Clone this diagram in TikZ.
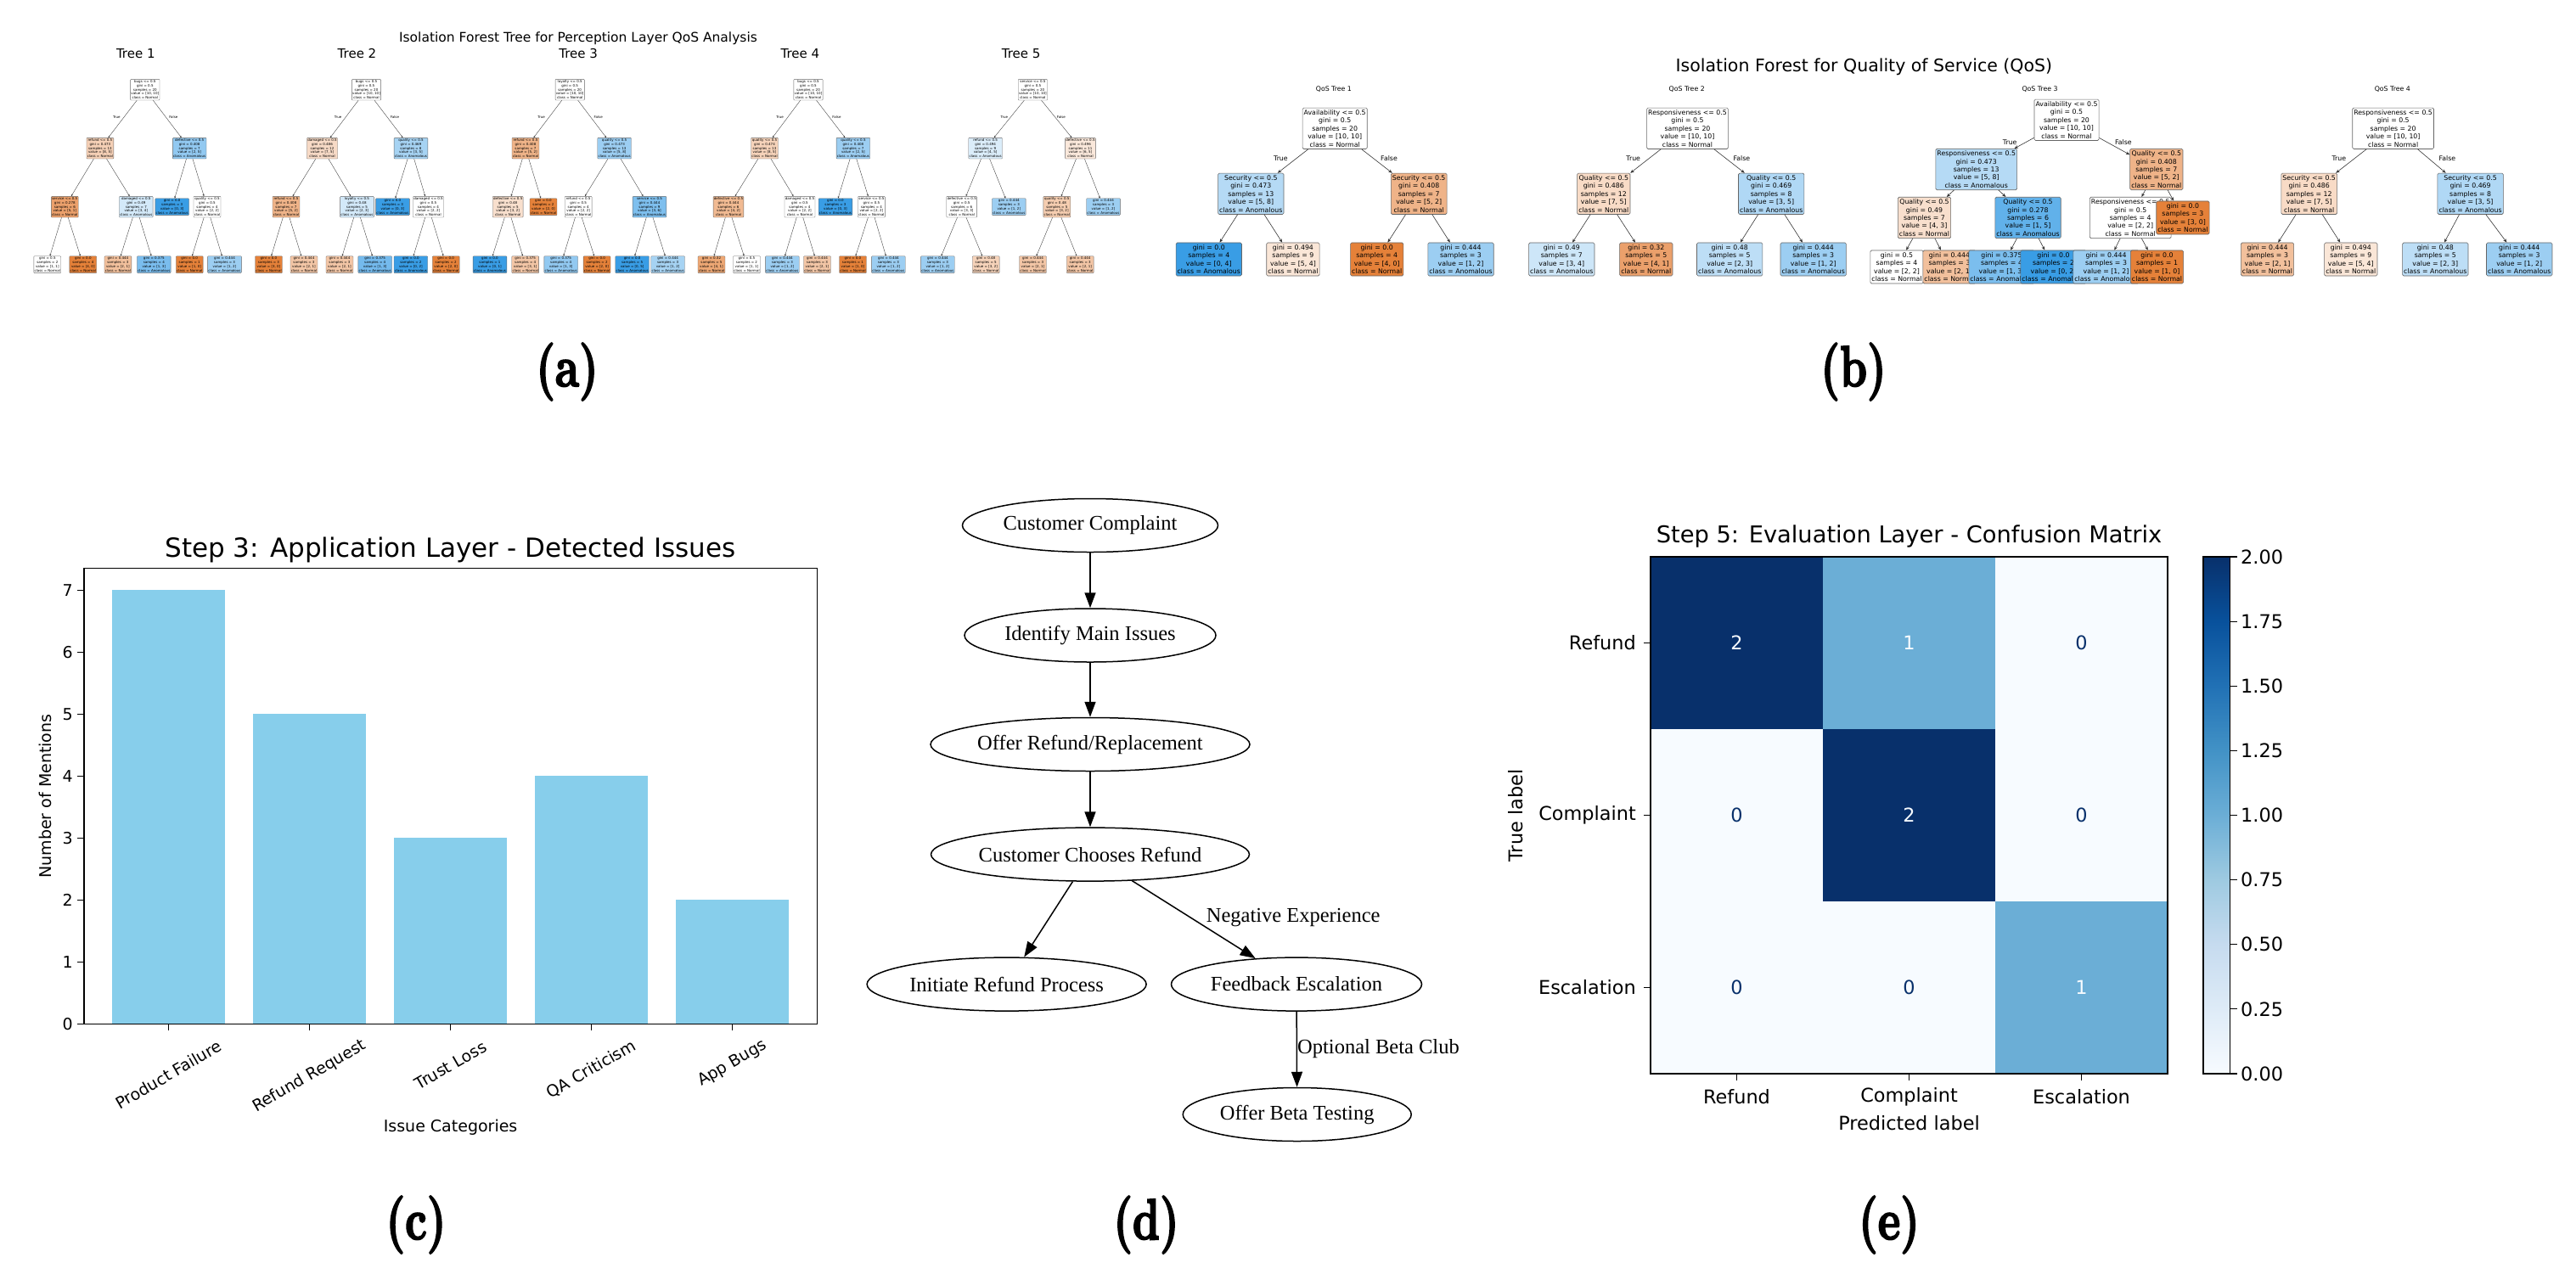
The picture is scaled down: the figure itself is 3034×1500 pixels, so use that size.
\documentclass[tikz,border=0pt]{standalone}
\usepackage{fontspec}
\newfontfamily\mplfont{DejaVu Sans}
\newfontfamily\gvfont{Liberation Serif}
\newfontfamily\labelfont{lmroman10-bold.otf}[FakeBold=3]
\usetikzlibrary{positioning, arrows.meta, shapes.geometric}

\definecolor{clsnorm}{HTML}{E58139}
\definecolor{clsanom}{HTML}{399DE5}
\definecolor{barblue}{HTML}{87CEEB}
\definecolor{blues0}{HTML}{F7FBFF}
\definecolor{blues1}{HTML}{DEEBF7}
\definecolor{blues2}{HTML}{C6DBEF}
\definecolor{blues3}{HTML}{9ECAE1}
\definecolor{blues4}{HTML}{6BAED6}
\definecolor{blues5}{HTML}{4292C6}
\definecolor{blues6}{HTML}{2171B5}
\definecolor{blues7}{HTML}{08519C}
\definecolor{blues8}{HTML}{08306B}

\newcommand{\splittxt}[5]{#1 <= 0.5\\gini = #2\\samples = #3\\value = [#4]\\class = #5}
\newcommand{\leaftxt}[4]{gini = #1\\samples = #2\\value = [#3]\\class = #4}
\newcommand{\panellabel}[1]{\scalebox{0.74}[1]{(#1)}}

\begin{document}
\begin{tikzpicture}[
    x=1pt, y=-1pt,
    treebox/.style={draw=black!60, rounded corners=1.5pt, line width=0.6pt,
        align=center, inner xsep=1.6pt, inner ysep=2.4pt,
        font=\mplfont\fontsize{7.8}{9.4}\selectfont},
    minibox/.style={draw=black!60, rounded corners=0.8pt, line width=0.35pt,
        align=center, inner xsep=0.8pt, inner ysep=1.2pt,
        font=\mplfont\fontsize{4}{4.8}\selectfont},
    treeedge/.style={-{Stealth[length=4.5pt,width=3.6pt]}, draw=black!80, line width=0.6pt},
    miniedge/.style={-{Stealth[length=2.4pt,width=2pt]}, draw=black!80, line width=0.35pt},
    tflabel/.style={font=\mplfont\fontsize{7.8}{9}\selectfont},
    minitf/.style={font=\mplfont\fontsize{4}{5}\selectfont},
    plottext/.style={inner sep=0pt, font=\mplfont\fontsize{19}{22}\selectfont},
    cmtext/.style={inner sep=0pt, font=\mplfont\fontsize{22.4}{26}\selectfont},
    gvnode/.style={ellipse, draw, line width=1.5pt, minimum height=63pt, inner sep=0pt,
        font=\gvfont\fontsize{24.5}{29}\selectfont},
    gvedge/.style={-{Triangle[length=18pt,width=13pt]}, line width=1.5pt},
    gvlabel/.style={anchor=west, inner sep=0pt, font=\gvfont\fontsize{24.5}{29}\selectfont},
    sublabel/.style={font=\labelfont\fontsize{68}{80}\selectfont}
]

\useasboundingbox (0,0) rectangle (3034,1500);

% =================================================
% (a) ISOLATION FOREST, PERCEPTION LAYER
% =================================================

\node[font=\mplfont\fontsize{15.5}{18}\selectfont] (atitle) at (681,45.7)
{Isolation Forest Tree for Perception Layer QoS Analysis};

\foreach \k/\x in {1/159.8, 2/420.5, 3/681.2, 4/942.4, 5/1202.6}{
    \node[font=\mplfont\fontsize{15}{18}\selectfont] (atree\k) at (\x,62.7) {Tree \k};
}

% Tree 1
\node[minibox, fill=white] (t1r) at (170.8,105.7) {\splittxt{bugs}{0.5}{20}{10, 10}{Normal}};
\node[minibox, fill=clsnorm!37!white] (t1a) at (117.9,174.7) {\splittxt{refund}{0.473}{13}{8, 5}{Normal}};
\node[minibox, fill=clsanom!55!white] (t1b) at (223.2,174.7) {\splittxt{defective}{0.408}{7}{2, 5}{Anomalous}};
\node[minibox, fill=clsnorm!75!white] (t1aa) at (76.3,243.7) {\splittxt{service}{0.278}{6}{5, 1}{Normal}};
\node[minibox, fill=clsanom!22!white] (t1ab) at (160.3,243.7) {\splittxt{damaged}{0.49}{7}{3, 4}{Anomalous}};
\node[minibox, fill=clsanom] (t1ba) at (202.7,243.7) {\leaftxt{0.0}{3}{0, 3}{Anomalous}};
\node[minibox, fill=white] (t1bb) at (244,243.7) {\splittxt{quality}{0.5}{4}{2, 2}{Normal}};
\node[minibox, fill=white] (t1aaa) at (55.8,311.7) {\leaftxt{0.5}{2}{1, 1}{Normal}};
\node[minibox, fill=clsnorm] (t1aab) at (97.8,311.7) {\leaftxt{0.0}{4}{4, 0}{Normal}};
\node[minibox, fill=clsnorm!50!white] (t1aba) at (138.9,311.7) {\leaftxt{0.444}{3}{2, 1}{Normal}};
\node[minibox, fill=clsanom!67!white] (t1abb) at (181.3,311.7) {\leaftxt{0.375}{4}{1, 3}{Anomalous}};
\node[minibox, fill=clsnorm] (t1bba) at (223.2,311.7) {\leaftxt{0.0}{1}{1, 0}{Normal}};
\node[minibox, fill=clsanom!50!white] (t1bbb) at (264.5,311.7) {\leaftxt{0.444}{3}{1, 2}{Anomalous}};

% Tree 2
\node[minibox, fill=white] (t2r) at (431.5,105.7) {\splittxt{bugs}{0.5}{20}{10, 10}{Normal}};
\node[minibox, fill=clsnorm!29!white] (t2a) at (379.5,174.7) {\splittxt{damaged}{0.486}{12}{7, 5}{Normal}};
\node[minibox, fill=clsanom!45!white] (t2b) at (484,174.7) {\splittxt{quality}{0.469}{8}{3, 5}{Anomalous}};
\node[minibox, fill=clsnorm!60!white] (t2aa) at (337,243.7) {\splittxt{refund}{0.408}{7}{5, 2}{Normal}};
\node[minibox, fill=clsanom!22!white] (t2ab) at (420.5,243.7) {\splittxt{loyalty}{0.48}{5}{2, 3}{Anomalous}};
\node[minibox, fill=clsanom] (t2ba) at (462.5,243.7) {\leaftxt{0.0}{3}{0, 3}{Anomalous}};
\node[minibox, fill=white] (t2bb) at (504.5,243.7) {\splittxt{damaged}{0.5}{4}{2, 2}{Normal}};
\node[minibox, fill=clsnorm] (t2aaa) at (316.5,311.7) {\leaftxt{0.0}{3}{3, 0}{Normal}};
\node[minibox, fill=clsnorm!45!white] (t2aab) at (358,311.7) {\leaftxt{0.444}{3}{2, 1}{Normal}};
\node[minibox, fill=clsnorm!45!white] (t2aba) at (400,311.7) {\leaftxt{0.444}{3}{2, 1}{Normal}};
\node[minibox, fill=clsanom!70!white] (t2abb) at (441.7,311.7) {\leaftxt{0.375}{4}{1, 3}{Anomalous}};
\node[minibox, fill=clsanom] (t2bba) at (483.9,311.7) {\leaftxt{0.0}{2}{0, 2}{Anomalous}};
\node[minibox, fill=clsnorm] (t2bbb) at (525.2,311.7) {\leaftxt{0.0}{2}{2, 0}{Normal}};

% Tree 3
\node[minibox, fill=white] (t3r) at (671.2,105.7) {\splittxt{loyalty}{0.5}{20}{10, 10}{Normal}};
\node[minibox, fill=clsnorm!60!white] (t3a) at (619,174.7) {\splittxt{refund}{0.408}{7}{5, 2}{Normal}};
\node[minibox, fill=clsanom!50!white] (t3b) at (723.6,174.7) {\splittxt{quality}{0.473}{13}{5, 8}{Anomalous}};
\node[minibox, fill=clsnorm!25!white] (t3aa) at (598.2,243.7) {\splittxt{defective}{0.48}{5}{3, 2}{Normal}};
\node[minibox, fill=clsnorm] (t3ab) at (640,243.7) {\leaftxt{0.0}{2}{2, 0}{Normal}};
\node[minibox, fill=white] (t3ba) at (681.2,243.7) {\splittxt{refund}{0.5}{4}{2, 2}{Normal}};
\node[minibox, fill=clsanom!65!white] (t3bb) at (765,243.7) {\splittxt{service}{0.444}{9}{3, 6}{Anomalous}};
\node[minibox, fill=clsanom] (t3aaa) at (577,311.7) {\leaftxt{0.0}{1}{0, 1}{Anomalous}};
\node[minibox, fill=clsnorm!45!white] (t3aab) at (618.7,311.7) {\leaftxt{0.375}{4}{3, 1}{Normal}};
\node[minibox, fill=clsanom!55!white] (t3baa) at (660.7,311.7) {\leaftxt{0.375}{4}{1, 3}{Anomalous}};
\node[minibox, fill=clsnorm] (t3bab) at (703.1,311.7) {\leaftxt{0.0}{2}{2, 0}{Normal}};
\node[minibox, fill=clsanom] (t3bba) at (744.6,311.7) {\leaftxt{0.0}{5}{0, 5}{Anomalous}};
\node[minibox, fill=clsanom!45!white] (t3bbb) at (786.6,311.7) {\leaftxt{0.444}{3}{1, 2}{Anomalous}};

% Tree 4
\node[minibox, fill=white] (t4r) at (952,105.7) {\splittxt{bugs}{0.5}{20}{10, 10}{Normal}};
\node[minibox, fill=clsnorm!35!white] (t4a) at (900.5,174.7) {\splittxt{quality}{0.474}{13}{8, 5}{Normal}};
\node[minibox, fill=clsanom!50!white] (t4b) at (1004.9,174.7) {\splittxt{quality}{0.408}{7}{2, 5}{Anomalous}};
\node[minibox, fill=clsnorm!55!white] (t4aa) at (858,243.7) {\splittxt{defective}{0.444}{6}{4, 2}{Normal}};
\node[minibox, fill=white] (t4ab) at (942,243.7) {\splittxt{damaged}{0.5}{4}{2, 2}{Normal}};
\node[minibox, fill=clsanom] (t4ba) at (984,243.7) {\leaftxt{0.0}{3}{0, 3}{Anomalous}};
\node[minibox, fill=white] (t4bb) at (1026.4,243.7) {\splittxt{service}{0.5}{4}{2, 2}{Normal}};
\node[minibox, fill=clsnorm!70!white] (t4aaa) at (838,311.7) {\leaftxt{0.32}{5}{4, 1}{Normal}};
\node[minibox, fill=white] (t4aab) at (879.5,311.7) {\leaftxt{0.5}{2}{1, 1}{Normal}};
\node[minibox, fill=clsanom!50!white] (t4aba) at (921.4,311.7) {\leaftxt{0.444}{3}{1, 2}{Anomalous}};
\node[minibox, fill=clsnorm!45!white] (t4abb) at (962.5,311.7) {\leaftxt{0.444}{3}{2, 1}{Normal}};
\node[minibox, fill=clsnorm] (t4bba) at (1004.5,311.7) {\leaftxt{0.0}{1}{1, 0}{Normal}};
\node[minibox, fill=clsanom!50!white] (t4bbb) at (1046.4,311.7) {\leaftxt{0.444}{3}{1, 2}{Anomalous}};

% Tree 5
\node[minibox, fill=white] (t5r) at (1216.4,105.7) {\splittxt{service}{0.5}{20}{10, 10}{Normal}};
\node[minibox, fill=clsanom!18!white] (t5a) at (1160.6,174.7) {\splittxt{refund}{0.494}{9}{4, 5}{Anomalous}};
\node[minibox, fill=clsnorm!18!white] (t5b) at (1272.5,174.7) {\splittxt{defective}{0.496}{11}{6, 5}{Normal}};
\node[minibox, fill=white] (t5aa) at (1132.7,243.7) {\splittxt{defective}{0.5}{6}{3, 3}{Normal}};
\node[minibox, fill=clsanom!50!white] (t5ab) at (1188.3,243.7) {\leaftxt{0.444}{3}{1, 2}{Anomalous}};
\node[minibox, fill=clsnorm!40!white] (t5ba) at (1244.8,243.7) {\splittxt{quality}{0.48}{5}{3, 2}{Normal}};
\node[minibox, fill=clsanom!50!white] (t5bb) at (1299.5,243.7) {\leaftxt{0.444}{3}{1, 2}{Anomalous}};
\node[minibox, fill=clsanom!50!white] (t5aaa) at (1104.4,311.7) {\leaftxt{0.444}{3}{1, 2}{Anomalous}};
\node[minibox, fill=clsnorm!35!white] (t5aab) at (1161.2,311.7) {\leaftxt{0.48}{5}{3, 2}{Normal}};
\node[minibox, fill=clsnorm!45!white] (t5baa) at (1216.5,311.7) {\leaftxt{0.444}{3}{2, 1}{Normal}};
\node[minibox, fill=clsnorm!45!white] (t5bab) at (1272.2,311.7) {\leaftxt{0.444}{3}{2, 1}{Normal}};

% Tree edges
\foreach \p/\c in {t1r/t1a, t1r/t1b, t1a/t1aa, t1a/t1ab, t1b/t1ba, t1b/t1bb,
    t1aa/t1aaa, t1aa/t1aab, t1ab/t1aba, t1ab/t1abb, t1bb/t1bba, t1bb/t1bbb,
    t2r/t2a, t2r/t2b, t2a/t2aa, t2a/t2ab, t2b/t2ba, t2b/t2bb,
    t2aa/t2aaa, t2aa/t2aab, t2ab/t2aba, t2ab/t2abb, t2bb/t2bba, t2bb/t2bbb,
    t3r/t3a, t3r/t3b, t3a/t3aa, t3a/t3ab, t3b/t3ba, t3b/t3bb,
    t3aa/t3aaa, t3aa/t3aab, t3ba/t3baa, t3ba/t3bab, t3bb/t3bba, t3bb/t3bbb,
    t4r/t4a, t4r/t4b, t4a/t4aa, t4a/t4ab, t4b/t4ba, t4b/t4bb,
    t4aa/t4aaa, t4aa/t4aab, t4ab/t4aba, t4ab/t4abb, t4bb/t4bba, t4bb/t4bbb,
    t5r/t5a, t5r/t5b, t5a/t5aa, t5a/t5ab, t5b/t5ba, t5b/t5bb,
    t5aa/t5aaa, t5aa/t5aab, t5ba/t5baa, t5ba/t5bab}{
    \draw[miniedge] (\p) -- (\c);
}

% True / False
\foreach \k/\x in {1/170.8, 2/431.5, 3/671.2, 4/952, 5/1216.4}{
    \node[minitf] (atrue\k) at (\x-33.5,138.3) {True};
    \node[minitf] (afalse\k) at (\x+33.5,138.3) {False};
}

\node[sublabel] (laba) at (668,438) {\panellabel{a}};

% =================================================
% (b) ISOLATION FOREST, QoS
% =================================================

\node[font=\mplfont\fontsize{20.5}{24}\selectfont] (btitle) at (2195.4,79.3)
{Isolation Forest for Quality of Service (QoS)};

\foreach \k/\x in {1/1570.9, 2/1986.7, 3/2402.5, 4/2817.8}{
    \node[font=\mplfont\fontsize{7.8}{9}\selectfont] (qtree\k) at (\x,105) {QoS Tree \k};
}

% QoS Tree 1
\node[treebox, fill=white] (q1r) at (1572.2,151.3) {\splittxt{Availability}{0.5}{20}{10, 10}{Normal}};
\node[treebox, fill=clsanom!37.5!white] (q1a) at (1473.3,228.3) {\splittxt{Security}{0.473}{13}{5, 8}{Anomalous}};
\node[treebox, fill=clsnorm!60!white] (q1b) at (1671.2,228.3) {\splittxt{Security}{0.408}{7}{5, 2}{Normal}};
\node[treebox, fill=clsanom] (q1aa) at (1423.8,305.5) {\leaftxt{0.0}{4}{0, 4}{Anomalous}};
\node[treebox, fill=clsnorm!20!white] (q1ab) at (1522.9,305.5) {\leaftxt{0.494}{9}{5, 4}{Normal}};
\node[treebox, fill=clsnorm] (q1ba) at (1621.7,305.5) {\leaftxt{0.0}{4}{4, 0}{Normal}};
\node[treebox, fill=clsanom!50!white] (q1bb) at (1720.5,305.5) {\leaftxt{0.444}{3}{1, 2}{Anomalous}};

% QoS Tree 2
\node[treebox, fill=white] (q2r) at (1987.5,151.3) {\splittxt{Responsiveness}{0.5}{20}{10, 10}{Normal}};
\node[treebox, fill=clsnorm!28.6!white] (q2a) at (1888.8,228.3) {\splittxt{Quality}{0.486}{12}{7, 5}{Normal}};
\node[treebox, fill=clsanom!40!white] (q2b) at (2086.2,228.3) {\splittxt{Quality}{0.469}{8}{3, 5}{Anomalous}};
\node[treebox, fill=clsanom!25!white] (q2aa) at (1839.3,305.5) {\leaftxt{0.49}{7}{3, 4}{Anomalous}};
\node[treebox, fill=clsnorm!75!white] (q2ab) at (1938.8,305.5) {\leaftxt{0.32}{5}{4, 1}{Normal}};
\node[treebox, fill=clsanom!33.3!white] (q2ba) at (2037.2,305.5) {\leaftxt{0.48}{5}{2, 3}{Anomalous}};
\node[treebox, fill=clsanom!50!white] (q2bb) at (2135.7,305.5) {\leaftxt{0.444}{3}{1, 2}{Anomalous}};

% QoS Tree 3
\node[treebox, fill=white] (q3r) at (2434,141.3) {\splittxt{Availability}{0.5}{20}{10, 10}{Normal}};
\node[treebox, fill=clsanom!37.5!white] (q3a) at (2327.7,199.5) {\splittxt{Responsiveness}{0.473}{13}{5, 8}{Anomalous}};
\node[treebox, fill=clsnorm!60!white] (q3b) at (2539.8,199.5) {\splittxt{Quality}{0.408}{7}{5, 2}{Normal}};
\node[treebox, fill=clsnorm!25!white] (q3aa) at (2266.5,256.5) {\splittxt{Quality}{0.49}{7}{4, 3}{Normal}};
\node[treebox, fill=clsanom!80!white] (q3ab) at (2388.5,256.5) {\splittxt{Quality}{0.278}{6}{1, 5}{Anomalous}};
\node[treebox, fill=white] (q3ba) at (2509.2,256.5) {\splittxt{Responsiveness}{0.5}{4}{2, 2}{Normal}};
\node[treebox, fill=clsnorm] (q3bb) at (2570.9,256.5) {\leaftxt{0.0}{3}{3, 0}{Normal}};
\node[treebox, fill=white] (q3aaa) at (2234,314.5) {\leaftxt{0.5}{4}{2, 2}{Normal}};
\node[treebox, fill=clsnorm!50!white] (q3aab) at (2296,314.5) {\leaftxt{0.444}{3}{2, 1}{Normal}};
\node[treebox, fill=clsanom!66.7!white] (q3aba) at (2357.5,314.5) {\leaftxt{0.375}{4}{1, 3}{Anomalous}};
\node[treebox, fill=clsanom] (q3abb) at (2418.5,314.5) {\leaftxt{0.0}{2}{0, 2}{Anomalous}};
\node[treebox, fill=clsanom!50!white] (q3baa) at (2480.5,314.5) {\leaftxt{0.444}{3}{1, 2}{Anomalous}};
\node[treebox, fill=clsnorm] (q3bab) at (2540.5,314.5) {\leaftxt{0.0}{1}{1, 0}{Normal}};

% QoS Tree 4
\node[treebox, fill=white] (q4r) at (2818.6,151.3) {\splittxt{Responsiveness}{0.5}{20}{10, 10}{Normal}};
\node[treebox, fill=clsnorm!28.6!white] (q4a) at (2719.7,228.3) {\splittxt{Security}{0.486}{12}{7, 5}{Normal}};
\node[treebox, fill=clsanom!40!white] (q4b) at (2909.6,228.3) {\splittxt{Security}{0.469}{8}{3, 5}{Anomalous}};
\node[treebox, fill=clsnorm!50!white] (q4aa) at (2670.5,305.5) {\leaftxt{0.444}{3}{2, 1}{Normal}};
\node[treebox, fill=clsnorm!20!white] (q4ab) at (2768.8,305.5) {\leaftxt{0.494}{9}{5, 4}{Normal}};
\node[treebox, fill=clsanom!33.3!white] (q4ba) at (2868.3,305.5) {\leaftxt{0.48}{5}{2, 3}{Anomalous}};
\node[treebox, fill=clsanom!50!white] (q4bb) at (2967.2,305.5) {\leaftxt{0.444}{3}{1, 2}{Anomalous}};

\foreach \p/\c in {q1r/q1a, q1r/q1b, q1a/q1aa, q1a/q1ab, q1b/q1ba, q1b/q1bb,
    q2r/q2a, q2r/q2b, q2a/q2aa, q2a/q2ab, q2b/q2ba, q2b/q2bb,
    q3r/q3a, q3r/q3b, q3a/q3aa, q3a/q3ab, q3b/q3ba, q3b/q3bb,
    q3aa/q3aaa, q3aa/q3aab, q3ab/q3aba, q3ab/q3abb, q3ba/q3baa, q3ba/q3bab,
    q4r/q4a, q4r/q4b, q4a/q4aa, q4a/q4ab, q4b/q4ba, q4b/q4bb}{
    \draw[treeedge] (\p) -- (\c);
}

\foreach \k/\x/\y/\d in {1/1572.2/186.7/63.8, 2/1987.5/186.7/63.8, 3/2434/167.3/66.8, 4/2818.6/186.7/63.8}{
    \node[tflabel] (btrue\k) at (\x-\d,\y) {True};
    \node[tflabel] (bfalse\k) at (\x+\d,\y) {False};
}

\node[sublabel] (labb) at (2183,438) {\panellabel{b}};

% =================================================
% (c) BAR CHART
% =================================================

\node[inner sep=0pt, font=\mplfont\fontsize{31}{36}\selectfont] (ctitle) at (530.6,648)
{Step 3: Application Layer - Detected Issues};

\foreach \i/\v/\ly/\lab in {0/7/1266/Product Failure, 1/5/1268/Refund Request,
    2/3/1255/Trust Loss, 3/4/1260/QA Criticism, 4/2/1253/App Bugs}{
    \pgfmathsetmacro{\xc}{98.75+(0.6+\i)*166.1}
    \fill[barblue] (\xc-66.45,1206.4) rectangle (\xc+66.45,1206.4-\v*73.03);
    \draw[line width=1.2pt] (\xc,1206.4) -- (\xc,1214.4);
    \node[plottext, rotate=30] (xtick\i) at (\xc,\ly) {\lab};
}

\foreach \v in {0,...,7}{
    \draw[line width=1.2pt] (98.75,1206.4-\v*73.03) -- (90.75,1206.4-\v*73.03);
    \node[plottext, anchor=east] (ytick\v) at (86,1206.4-\v*73.03) {\v};
}

% Frame
\draw[line width=1.5pt] (98.75,669.7) rectangle (962.5,1206.4);

\node[plottext, rotate=90] (cylab) at (53,938) {Number of Mentions};
\node[plottext] (cxlab) at (530.6,1328) {Issue Categories};

\node[sublabel] (labc) at (490,1443) {\panellabel{c}};

% =================================================
% (d) FLOWCHART
% =================================================

\node[gvnode, minimum width=301pt] (complaint) at (1284,619) {Customer Complaint};
\node[gvnode, minimum width=296pt] (issues) at (1284,748.5) {Identify Main Issues};
\node[gvnode, minimum width=376pt] (offer) at (1284,877) {Offer Refund/Replacement};
\node[gvnode, minimum width=375pt] (chooses) at (1284,1006.6) {Customer Chooses Refund};
\node[gvnode, minimum width=329pt] (initiate) at (1185.6,1159.6) {Initiate Refund Process};
\node[gvnode, minimum width=295pt] (escalation) at (1527,1159.6) {Feedback Escalation};
\node[gvnode, minimum width=269pt] (beta) at (1527.7,1313) {Offer Beta Testing};

\draw[gvedge] (complaint) -- (issues);
\draw[gvedge] (issues) -- (offer);
\draw[gvedge] (offer) -- (chooses);
\draw[gvedge] (chooses) -- (initiate);
\draw[gvedge] (chooses) -- (escalation);
\draw[gvedge] (escalation) -- (beta);

\node[gvlabel] (negexp) at (1420.6,1081) {Negative Experience};
\node[gvlabel] (betaclub) at (1528,1235.8) {Optional Beta Club};

\node[sublabel] (labd) at (1350,1443) {\panellabel{d}};

% =================================================
% (e) CONFUSION MATRIX
% =================================================

\node[inner sep=0pt, font=\mplfont\fontsize{27.3}{32}\selectfont] (etitle) at (2248.5,632)
{Step 5: Evaluation Layer - Confusion Matrix};

\foreach \r/\c/\v/\bg/\fg in {0/0/2/blues8/blues0, 0/1/1/blues4/blues0, 0/2/0/blues0/blues8,
    1/0/0/blues0/blues8, 1/1/2/blues8/blues0, 1/2/0/blues0/blues8,
    2/0/0/blues0/blues8, 2/1/0/blues0/blues8, 2/2/1/blues4/blues0}{
    \fill[\bg] (1944+\c*203,656+\r*203) rectangle (2147+\c*203,859+\r*203);
    \node[cmtext, text=\fg] (cell\r\c) at (2045.5+\c*203,757.5+\r*203) {\v};
}
\draw[line width=1.5pt] (1944,656) rectangle (2553,1265);

\foreach \k/\lab in {0/Refund, 1/Complaint, 2/Escalation}{
    \draw[line width=1.2pt] (1944,757.5+\k*203) -- (1936,757.5+\k*203);
    \node[cmtext, anchor=east] (erow\k) at (1927,757.5+\k*203) {\lab};
    \draw[line width=1.2pt] (2045.5+\k*203,1265) -- (2045.5+\k*203,1273);
    \node[cmtext] (ecol\k) at (2045.5+\k*203,1292) {\lab};
}

\node[cmtext] (expred) at (2248.5,1323.6) {Predicted label};
\node[cmtext, rotate=90] (etrue) at (1785,961) {True label};

% Colorbar
\foreach \a/\b [count=\k from 0] in {blues0/blues1, blues1/blues2, blues2/blues3, blues3/blues4,
    blues4/blues5, blues5/blues6, blues6/blues7, blues7/blues8}{
    \shade[bottom color=\a, top color=\b] (2595,1265-\k*76.125) rectangle (2626.5,1265-\k*76.125-76.4);
}
\draw[line width=1.2pt] (2595,656) rectangle (2626.5,1265);
\foreach \t/\lab in {0/0.00, 1/0.25, 2/0.50, 3/0.75, 4/1.00, 5/1.25, 6/1.50, 7/1.75, 8/2.00}{
    \draw[line width=1.2pt] (2626.5,1265-\t*76.125) -- (2634.5,1265-\t*76.125);
    \node[cmtext, anchor=west] (cbar\t) at (2639,1265-\t*76.125) {\lab};
}

\node[sublabel] (labe) at (2225,1443) {\panellabel{e}};

\end{tikzpicture}
\end{document}
